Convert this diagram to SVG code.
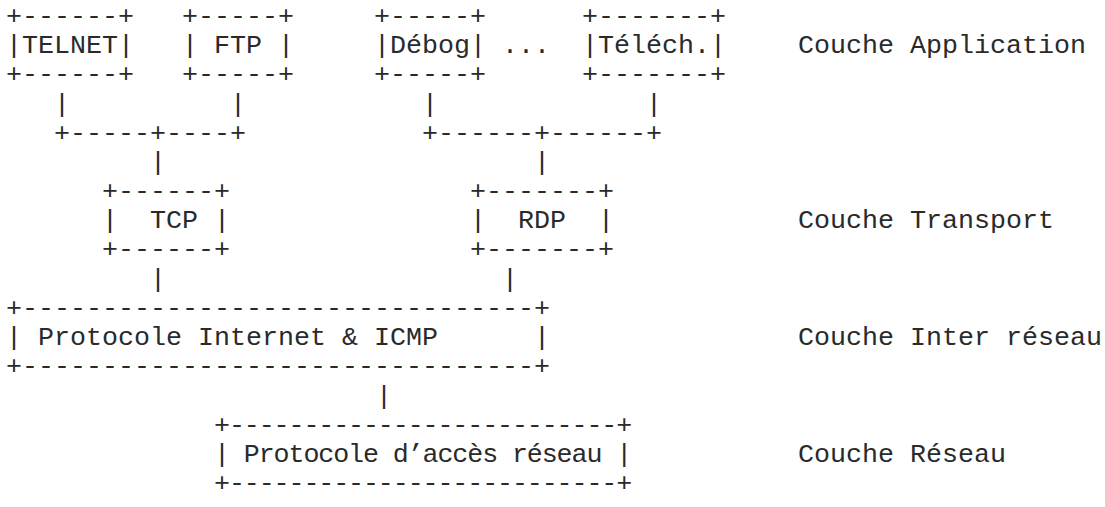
<svg xmlns="http://www.w3.org/2000/svg" width="1105" height="507" viewBox="0 0 1105 507">
<style>
text{font-family:"Liberation Mono","DejaVu Sans Mono",monospace;font-size:26.667px;fill:#2a2a2a;white-space:pre}
.tight{letter-spacing:-1.1px}
</style>
<rect width="1105" height="507" fill="#fff"/>
<g id="connectors">
<text x="54" y="112">|</text><text x="230" y="112">|</text><text x="422" y="112">|</text><text x="646" y="112">|</text>
<text x="54" y="141">+-----+----+</text><text x="422" y="141">+------+------+</text>
<text x="150" y="170">|</text><text x="534" y="170">|</text>
<text x="150" y="287">|</text><text x="502" y="287">|</text>
<text x="376" y="404">|</text>
</g>
<g id="node-telnet">
<text x="6" y="24">+------+</text><text x="6" y="53">|TELNET|</text><text x="6" y="82">+------+</text>
</g>
<g id="node-ftp">
<text x="182" y="24">+-----+</text><text x="182" y="53">| FTP |</text><text x="182" y="82">+-----+</text>
</g>
<g id="node-debog">
<text x="374" y="24">+-----+</text><text x="374" y="53">|Débog|</text><text x="374" y="82">+-----+</text>
</g>
<g id="ellipsis"><text x="502" y="53">...</text></g>
<g id="node-telech">
<text x="582" y="24">+-------+</text><text x="582" y="53">|Téléch.|</text><text x="582" y="82">+-------+</text>
</g>
<g id="node-tcp">
<text x="102" y="199">+------+</text><text x="102" y="228">|  TCP |</text><text x="102" y="257">+------+</text>
</g>
<g id="node-rdp">
<text x="470" y="199">+-------+</text><text x="470" y="228">|  RDP  |</text><text x="470" y="257">+-------+</text>
</g>
<g id="node-ip">
<text x="6" y="316">+--------------------------------+</text><text x="6" y="345">| Protocole Internet &amp; ICMP      |</text><text x="6" y="374">+--------------------------------+</text>
</g>
<g id="node-access">
<text class="tight" x="214" y="433">+--------------------------+</text><text class="tight" x="214" y="462">| Protocole d’accès réseau |</text><text class="tight" x="214" y="491">+--------------------------+</text>
</g>
<g id="layer-labels">
<text x="798" y="53">Couche Application</text>
<text x="798" y="228">Couche Transport</text>
<text x="798" y="345">Couche Inter réseau</text>
<text x="798" y="462">Couche Réseau</text>
</g>
</svg>
